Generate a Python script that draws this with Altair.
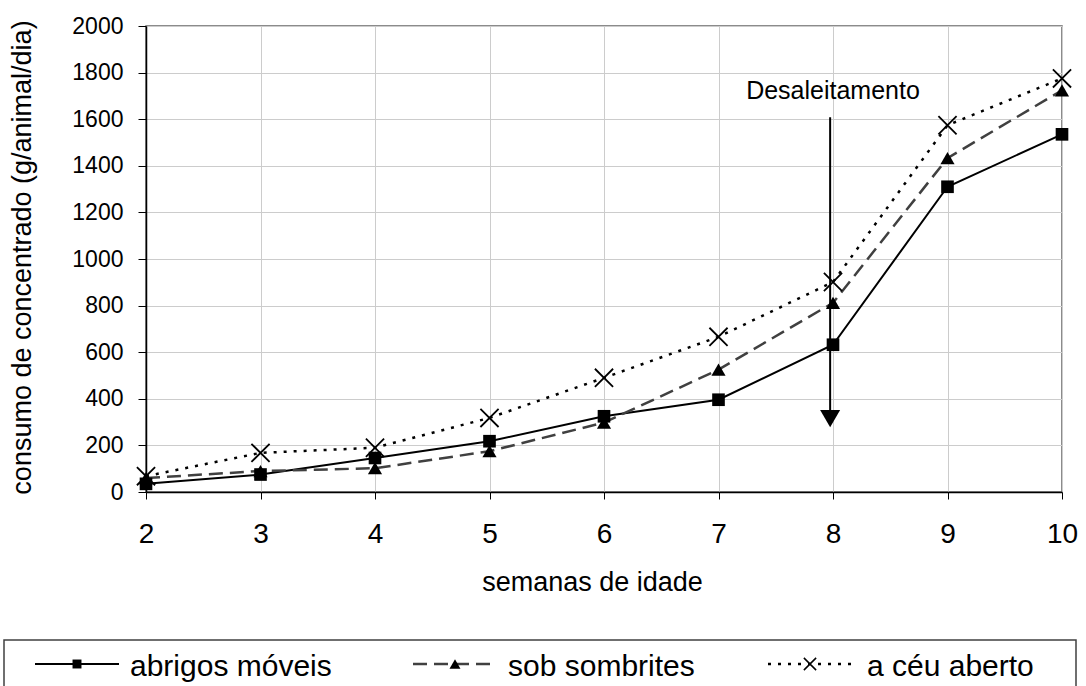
import altair as alt
import pandas as pd

# ---------------- data ----------------
semanas = [2, 3, 4, 5, 6, 7, 8, 9, 10]
series_names = ["abrigos móveis", "sob sombrites", "a céu aberto"]
abrigos = [35, 75, 146, 218, 325, 396, 632, 1310, 1535]
sombrites = [60, 90, 102, 175, 298, 525, 812, 1433, 1724]
ceu = [68, 168, 190, 318, 490, 666, 901, 1574, 1775]

y_ticks = [0, 200, 400, 600, 800, 1000, 1200, 1400, 1600, 1800, 2000]

annot_text = ["Desaleitamento"]
annot_x = [8]
annot_y = [1685]
arrow_x = [7.975]
arrow_top = [1608]
arrow_bottom = [335]
arrow_head_y = [315]

FONT = "Liberation Sans"
XPATH = "M-1,-1L1,1M1,-1L-1,1"

rows = []
for name, vals in zip(series_names, [abrigos, sombrites, ceu]):
    for s, v in zip(semanas, vals):
        rows.append({"semana": s, "valor": v, "serie": name})
df = pd.DataFrame(rows)

styles = {
    "abrigos móveis": dict(color="#000000", dash=None, width=2, shape="square", size=160, filled=True,
                           lsize=80),
    "sob sombrites": dict(color="#404040", dash=[14, 7], width=2.5, shape="triangle-up", size=200,
                          filled=True, lsize=120),
    "a céu aberto": dict(color="#000000", dash=[3, 7], width=2.5, shape=XPATH, size=330, filled=False,
                         lsize=150),
}

# ---------------- main chart ----------------
x_enc = alt.X(
    "semana:Q",
    scale=alt.Scale(domain=[2, 10], nice=False, zero=False),
    axis=alt.Axis(
        values=semanas, format="d", title="semanas de idade", labelFont=FONT, labelFontSize=28,
        labelColor="#000", labelPadding=21, labelFlush=False, tickSize=7, tickColor="#000",
        domainColor="#000", domainWidth=1.5, gridColor="#cccccc", gridWidth=1, grid=True,
        titleFont=FONT, titleFontSize=27, titleFontWeight="normal", titleColor="#000",
        titleX=446, titleY=98, titleBaseline="alphabetic", titleAnchor="middle", titleAlign="center",
    ),
)
y_enc = alt.Y(
    "valor:Q",
    scale=alt.Scale(domain=[0, 2000], nice=False, zero=True),
    axis=alt.Axis(
        values=y_ticks, format="d", title="consumo de concentrado (g/animal/dia)", labelFont=FONT,
        labelFontSize=23, labelColor="#000", labelPadding=15, tickSize=8, tickColor="#000",
        domainColor="#000", domainWidth=1.5, gridColor="#cccccc", gridWidth=1, grid=True,
        labelFlush=False,
        titleFont=FONT, titleFontSize=27, titleFontWeight="normal", titleColor="#000",
        titleX=-124, titleY=231, titleBaseline="middle", titleAlign="center", titleAngle=270,
    ),
)

base = alt.Chart(df)
line_layers = []
point_layers = []
for name in series_names:
    st = styles[name]
    lkw = dict(color=st["color"], strokeWidth=st["width"])
    if st["dash"]:
        lkw["strokeDash"] = st["dash"]
    line_layers.append(
        base.transform_filter(alt.datum.serie == name).mark_line(**lkw).encode(x=x_enc, y=y_enc)
    )
    if st["filled"]:
        pm = base.transform_filter(alt.datum.serie == name).mark_point(
            shape=st["shape"], size=st["size"], filled=True, color="#000", opacity=1)
    else:
        pm = base.transform_filter(alt.datum.serie == name).mark_point(
            shape=st["shape"], size=st["size"], filled=False, color="#000", strokeWidth=1.8, opacity=1)
    point_layers.append(pm.encode(x=x_enc, y=y_enc))

arrow_df = pd.DataFrame({"semana": arrow_x, "valor": arrow_top, "valor2": arrow_bottom})
arrow_line = alt.Chart(arrow_df).mark_rule(color="#000", strokeWidth=2).encode(
    x=x_enc, y=y_enc, y2="valor2:Q")
head_df = pd.DataFrame({"semana": arrow_x, "valor": arrow_head_y})
arrow_head = alt.Chart(head_df).mark_point(
    shape="triangle-down", size=400, filled=True, color="#000", opacity=1).encode(
    x=x_enc, y=y_enc)

annot_df = pd.DataFrame({"semana": annot_x, "valor": annot_y, "txt": annot_text})
annot = alt.Chart(annot_df).mark_text(
    font=FONT, fontSize=25, align="center", baseline="alphabetic", color="#000").encode(
    x=x_enc, y=y_enc, text="txt:N")

main = alt.layer(*line_layers, *point_layers, arrow_line, arrow_head, annot)

# ---------------- legend (drawn below the plot) ----------------
px_x = alt.Scale(domain=[-200, 1000], range=[-200, 1000], nice=False, zero=False)
px_y = alt.Scale(domain=[0, 700], range=[0, 700], nice=False, zero=False)

leg_marker_x = [-69, 309, 664]
leg_text_x = [-16, 362, 721]
leg_half = 42
leg_row_y = 638
leg_text_y = 650

leg_df = pd.DataFrame({
    "serie": series_names,
    "cx": leg_marker_x,
    "x0": [v - leg_half for v in leg_marker_x],
    "x1": [v + leg_half for v in leg_marker_x],
    "tx": leg_text_x,
    "cy": [leg_row_y] * 3,
    "ty": [leg_text_y] * 3,
})
box_df = pd.DataFrame({"x0": [-142], "x1": [930], "y0": [614], "y1": [672]})

leg_layers = [
    alt.Chart(box_df).mark_rect(fill="white", stroke="#404040", strokeWidth=1.5).encode(
        x=alt.X("x0:Q", scale=px_x, axis=None), x2="x1:Q",
        y=alt.Y("y0:Q", scale=px_y, axis=None), y2="y1:Q")
]
for name in series_names:
    st = styles[name]
    lkw = dict(color=st["color"], strokeWidth=st["width"])
    if st["dash"]:
        lkw["strokeDash"] = st["dash"]
    sub = alt.Chart(leg_df).transform_filter(alt.datum.serie == name)
    leg_layers.append(sub.mark_rule(**lkw).encode(
        x=alt.X("x0:Q", scale=px_x, axis=None), x2="x1:Q",
        y=alt.Y("cy:Q", scale=px_y, axis=None)))
    if st["filled"]:
        pm = sub.mark_point(shape=st["shape"], size=st["lsize"], filled=True, color="#000", opacity=1)
    else:
        pm = sub.mark_point(shape=st["shape"], size=st["lsize"], filled=False, color="#000",
                            strokeWidth=1.5, opacity=1)
    leg_layers.append(pm.encode(
        x=alt.X("cx:Q", scale=px_x, axis=None),
        y=alt.Y("cy:Q", scale=px_y, axis=None)))
leg_layers.append(alt.Chart(leg_df).mark_text(
    font=FONT, fontSize=30, align="left", baseline="alphabetic", color="#000").encode(
    x=alt.X("tx:Q", scale=px_x, axis=None),
    y=alt.Y("ty:Q", scale=px_y, axis=None),
    text="serie:N"))
legend = alt.layer(*leg_layers)

chart = alt.layer(main, legend).resolve_scale(x="independent", y="independent").properties(
    width=916, height=466,
    autosize=alt.AutoSizeParams(type="none"),
    padding={"left": 146, "top": 26, "right": 24, "bottom": 194},
    background="white",
).configure_view(stroke="#666666", strokeWidth=1.5)

chart.save("out.html", embed_options={"renderer": "svg", "actions": False})
